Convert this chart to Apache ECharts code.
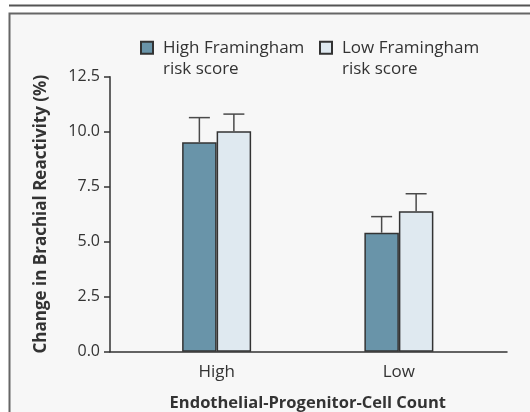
<!DOCTYPE html>
<html>
<head>
<meta charset="utf-8">
<script src="https://cdn.jsdelivr.net/npm/echarts@6/dist/echarts.min.js"></script>
<style>
html,body{margin:0;padding:0;background:#ffffff;}
#chart{width:530px;height:412px;}
</style>
</head>
<body>
<div id="chart"></div>
<script>
// ---- data ----
var categories = ['High', 'Low'];
var seriesNames = ['High Framingham\nrisk score', 'Low Framingham\nrisk score'];
var highRisk = [9.52, 5.41];
var lowRisk = [10.02, 6.38];
var highRiskErr = [1.12, 0.73];
var lowRiskErr = [0.78, 0.80];

var FONT = '"Open Sans", "DejaVu Sans", sans-serif';
var TXT = '#333333';
var BAR_W = 34.5;

var chart = echarts.init(document.getElementById('chart'), null, {renderer: 'canvas'});

function errSeries(name, vals, errs, side) {
  return {
    type: 'custom',
    name: name + ' err',
    xAxisIndex: 1, yAxisIndex: 1,
    silent: true,
    z: 1,
    data: vals.map(function (v, i) { return [i, v, v + errs[i]]; }),
    renderItem: function (params, api) {
      var base = api.coord([api.value(0), api.value(1)]);
      var top = api.coord([api.value(0), api.value(2)]);
      var x = base[0] + side * BAR_W / 2;
      var capHalf = 10.5;
      return {
        type: 'group',
        children: [
          {type: 'line', shape: {x1: x, y1: base[1], x2: x, y2: top[1]}, style: {stroke: '#4a4a4a', lineWidth: 1.5}},
          {type: 'line', shape: {x1: x - capHalf, y1: top[1], x2: x + capHalf, y2: top[1]}, style: {stroke: '#4a4a4a', lineWidth: 1.5}}
        ]
      };
    }
  };
}

var legendText = {
  fontFamily: FONT, fontSize: 17, color: TXT, lineHeight: 21,
  padding: [0, 0, 0, 5]
};
var legendIcon = 'path://M0,0L12,0L12,12L0,12Z M0,33L0,33';

function legendFor(name, left) {
  return {
    left: left, top: 37.2, padding: 0,
    data: [{name: name, icon: legendIcon}],
    itemWidth: 12, itemHeight: 33,
    textStyle: legendText,
    selectedMode: false
  };
}

var option = {
  backgroundColor: '#ffffff',
  animation: false,
  graphic: [
    {type: 'rect', z: -10, shape: {x: 9.5, y: 13.5, width: 540, height: 420}, style: {fill: '#f7f7f7', stroke: '#666666', lineWidth: 2}},
    {type: 'line', z: -10, shape: {x1: 9, y1: 5.5, x2: 530, y2: 5.5}, style: {stroke: '#555555', lineWidth: 2}}
  ],
  legend: [legendFor(seriesNames[0], 140), legendFor(seriesNames[1], 319)],
  grid: [
    {left: 110, right: 23, top: 76.7, bottom: 60.3, outerBoundsMode: 'none', containLabel: false},
    {left: 125.5, right: 40, top: 76.7, bottom: 60.3, outerBoundsMode: 'none', containLabel: false}
  ],
  xAxis: [
    {
      type: 'value', gridIndex: 0, min: 0, max: 1,
      axisLine: {show: true, onZero: false, lineStyle: {color: '#333', width: 1.5}},
      axisTick: {show: false}, axisLabel: {show: false}, splitLine: {show: false}
    },
    {
      type: 'category', gridIndex: 1, data: categories,
      axisLine: {show: false}, axisTick: {show: false},
      axisLabel: {fontFamily: FONT, fontSize: 17, color: TXT, margin: 12},
      name: 'Endothelial-Progenitor-Cell Count',
      nameLocation: 'middle', nameGap: 43,
      nameTextStyle: {fontFamily: FONT, fontSize: 16.5, fontWeight: 'bold', color: TXT}
    }
  ],
  yAxis: [
    {
      type: 'value', gridIndex: 0, min: 0, max: 12.5, interval: 2.5,
      axisLine: {show: true, lineStyle: {color: '#333', width: 1.5}},
      axisTick: {show: true, length: 6, lineStyle: {color: '#333', width: 1.5}},
      splitLine: {show: false},
      axisLabel: {fontFamily: FONT, fontSize: 16, color: TXT, margin: 10,
        formatter: function (v) { return v.toFixed(1); }},
      name: 'Change in Brachial Reactivity (%)',
      nameLocation: 'middle', nameGap: 60,
      nameTextStyle: {fontFamily: FONT, fontSize: 17, fontWeight: 'bold', color: TXT}
    },
    {
      type: 'value', gridIndex: 1, min: 0, max: 12.5, interval: 2.5, show: false
    }
  ],
  series: [
    {
      type: 'bar', name: seriesNames[0], xAxisIndex: 1, yAxisIndex: 1,
      data: highRisk, barWidth: BAR_W, barGap: '0%', z: 2,
      itemStyle: {color: '#6994a9', borderColor: '#333', borderWidth: 1.5}
    },
    {
      type: 'bar', name: seriesNames[1], xAxisIndex: 1, yAxisIndex: 1,
      data: lowRisk, barWidth: BAR_W, barGap: '0%', z: 2,
      itemStyle: {color: '#dfe9f0', borderColor: '#333', borderWidth: 1.5}
    },
    errSeries('h', highRisk, highRiskErr, -1),
    errSeries('l', lowRisk, lowRiskErr, 1)
  ]
};
chart.setOption(option);
</script>
</body>
</html>
